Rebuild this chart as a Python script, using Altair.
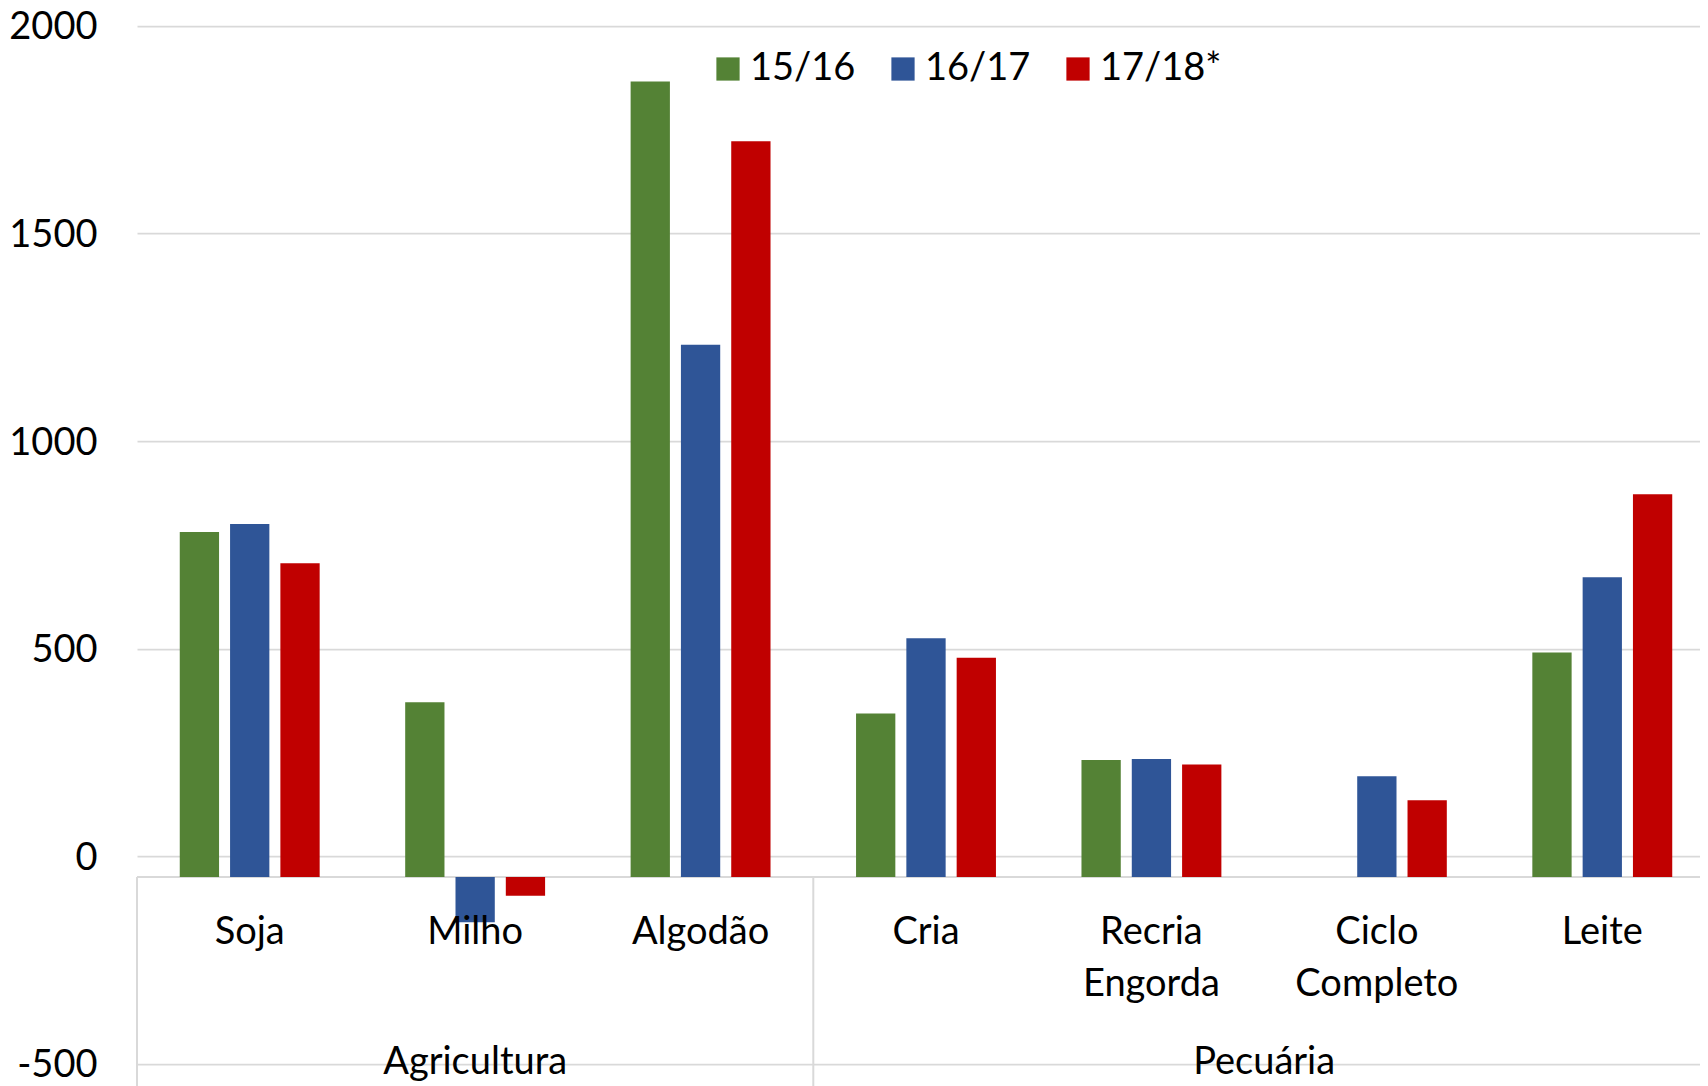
import altair as alt
import pandas as pd

# ---- data ----
categories = ["Soja", "Milho", "Algodão", "Cria", "Recria\nEngorda", "Ciclo\nCompleto", "Leite"]
category_groups = ["Agricultura", "Agricultura", "Agricultura", "Pecuária", "Pecuária", "Pecuária", "Pecuária"]
series = ["15/16", "16/17", "17/18*"]
values_1516 = [781, 371, 1866, 344, 232, None, 491]
values_1617 = [800, -159, 1232, 525, 234, 193, 672]
values_1718 = [706, -95, 1722, 478, 221, 135, 872]
colors = ["#548235", "#2F5597", "#C00000"]
y_ticks = [-500, 0, 500, 1000, 1500, 2000]
axis_cross = -50  # value where the category axis crosses (bars start here)

# ---- tables ----
rows = []
for s, vals in zip(series, [values_1516, values_1617, values_1718]):
    for c, v in zip(categories, vals):
        if v is not None:
            rows.append({"category": c, "series": s, "value": v})
bars_df = pd.DataFrame(rows)
cat_df = pd.DataFrame({"category": categories})

grp_rows = []
idx = 0
for g in dict.fromkeys(category_groups):
    n = category_groups.count(g)
    grp_rows.append({"group": g, "start": idx, "end": idx + n, "mid": idx + n / 2})
    idx += n
grp_df = pd.DataFrame(grp_rows)
cross_df = pd.DataFrame({"y": [axis_cross]})

FONT = "Lato"
FS = 38
W = 1563
H = 1070
XR = [0, 1578]

x_band = alt.Scale(domain=categories, range=XR, paddingInner=0, paddingOuter=0)
x_lin = alt.Scale(domain=[0, len(categories)], range=XR)
y_scale = alt.Scale(domain=[-534, 2043], nice=False, zero=False)

bars = alt.Chart(bars_df).mark_bar().encode(
    x=alt.X("category:N", sort=categories, scale=x_band, axis=None),
    xOffset=alt.XOffset("series:N", sort=series,
                        scale=alt.Scale(domain=series, paddingInner=0.219, paddingOuter=0.85)),
    y=alt.Y("value:Q", scale=y_scale, title=None,
            axis=alt.Axis(values=y_ticks, domain=False, ticks=False, tickSize=0,
                          labelPadding=40, labelFont=FONT, labelFontSize=FS,
                          labelColor="black", labelExpr="datum.value + ''",
                          labelOffset=2,
                          gridColor="#d9d9d9", gridWidth=1.75)),
    y2=alt.datum(axis_cross),
    color=alt.Color("series:N", sort=series,
                    scale=alt.Scale(domain=series, range=colors),
                    legend=alt.Legend(orient="none", legendX=572, legendY=42,
                                      direction="horizontal", title=None,
                                      symbolType="square", symbolSize=540,
                                      symbolStrokeWidth=0,
                                      labelFont=FONT, labelFontSize=FS,
                                      labelColor="black", labelOffset=3,
                                      columnPadding=28, padding=0)),
)

cross_rule = alt.Chart(cross_df).mark_rule(color="#d9d9d9", strokeWidth=2).encode(
    y=alt.Y("y:Q", scale=y_scale)
)

separators = alt.Chart(grp_df).mark_rule(color="#d9d9d9", strokeWidth=2).encode(
    x=alt.X("start:Q", scale=x_lin, axis=None),
    y=alt.datum(axis_cross),
    y2=alt.value(H + 8),
)

cat_text = alt.Chart(cat_df).mark_text(
    font=FONT, fontSize=FS, baseline="alphabetic", align="center",
    lineBreak="\n", lineHeight=52, color="black"
).encode(
    x=alt.X("category:N", sort=categories, scale=x_band, axis=None),
    y=alt.value(936),
    text="category:N",
)

grp_text = alt.Chart(grp_df).mark_text(
    font=FONT, fontSize=FS, baseline="alphabetic", align="center", color="black"
).encode(
    x=alt.X("mid:Q", scale=x_lin, axis=None),
    y=alt.value(1066),
    text="group:N",
)

chart = alt.layer(cross_rule, separators, bars, cat_text, grp_text).resolve_scale(
    x="independent"
).properties(
    width=W, height=H, autosize="none",
    padding={"left": 129, "top": 0, "right": 0, "bottom": 8},
    background="white",
).configure_view(stroke=None)

chart.save("out.html", embed_options={"renderer": "svg", "actions": False})
